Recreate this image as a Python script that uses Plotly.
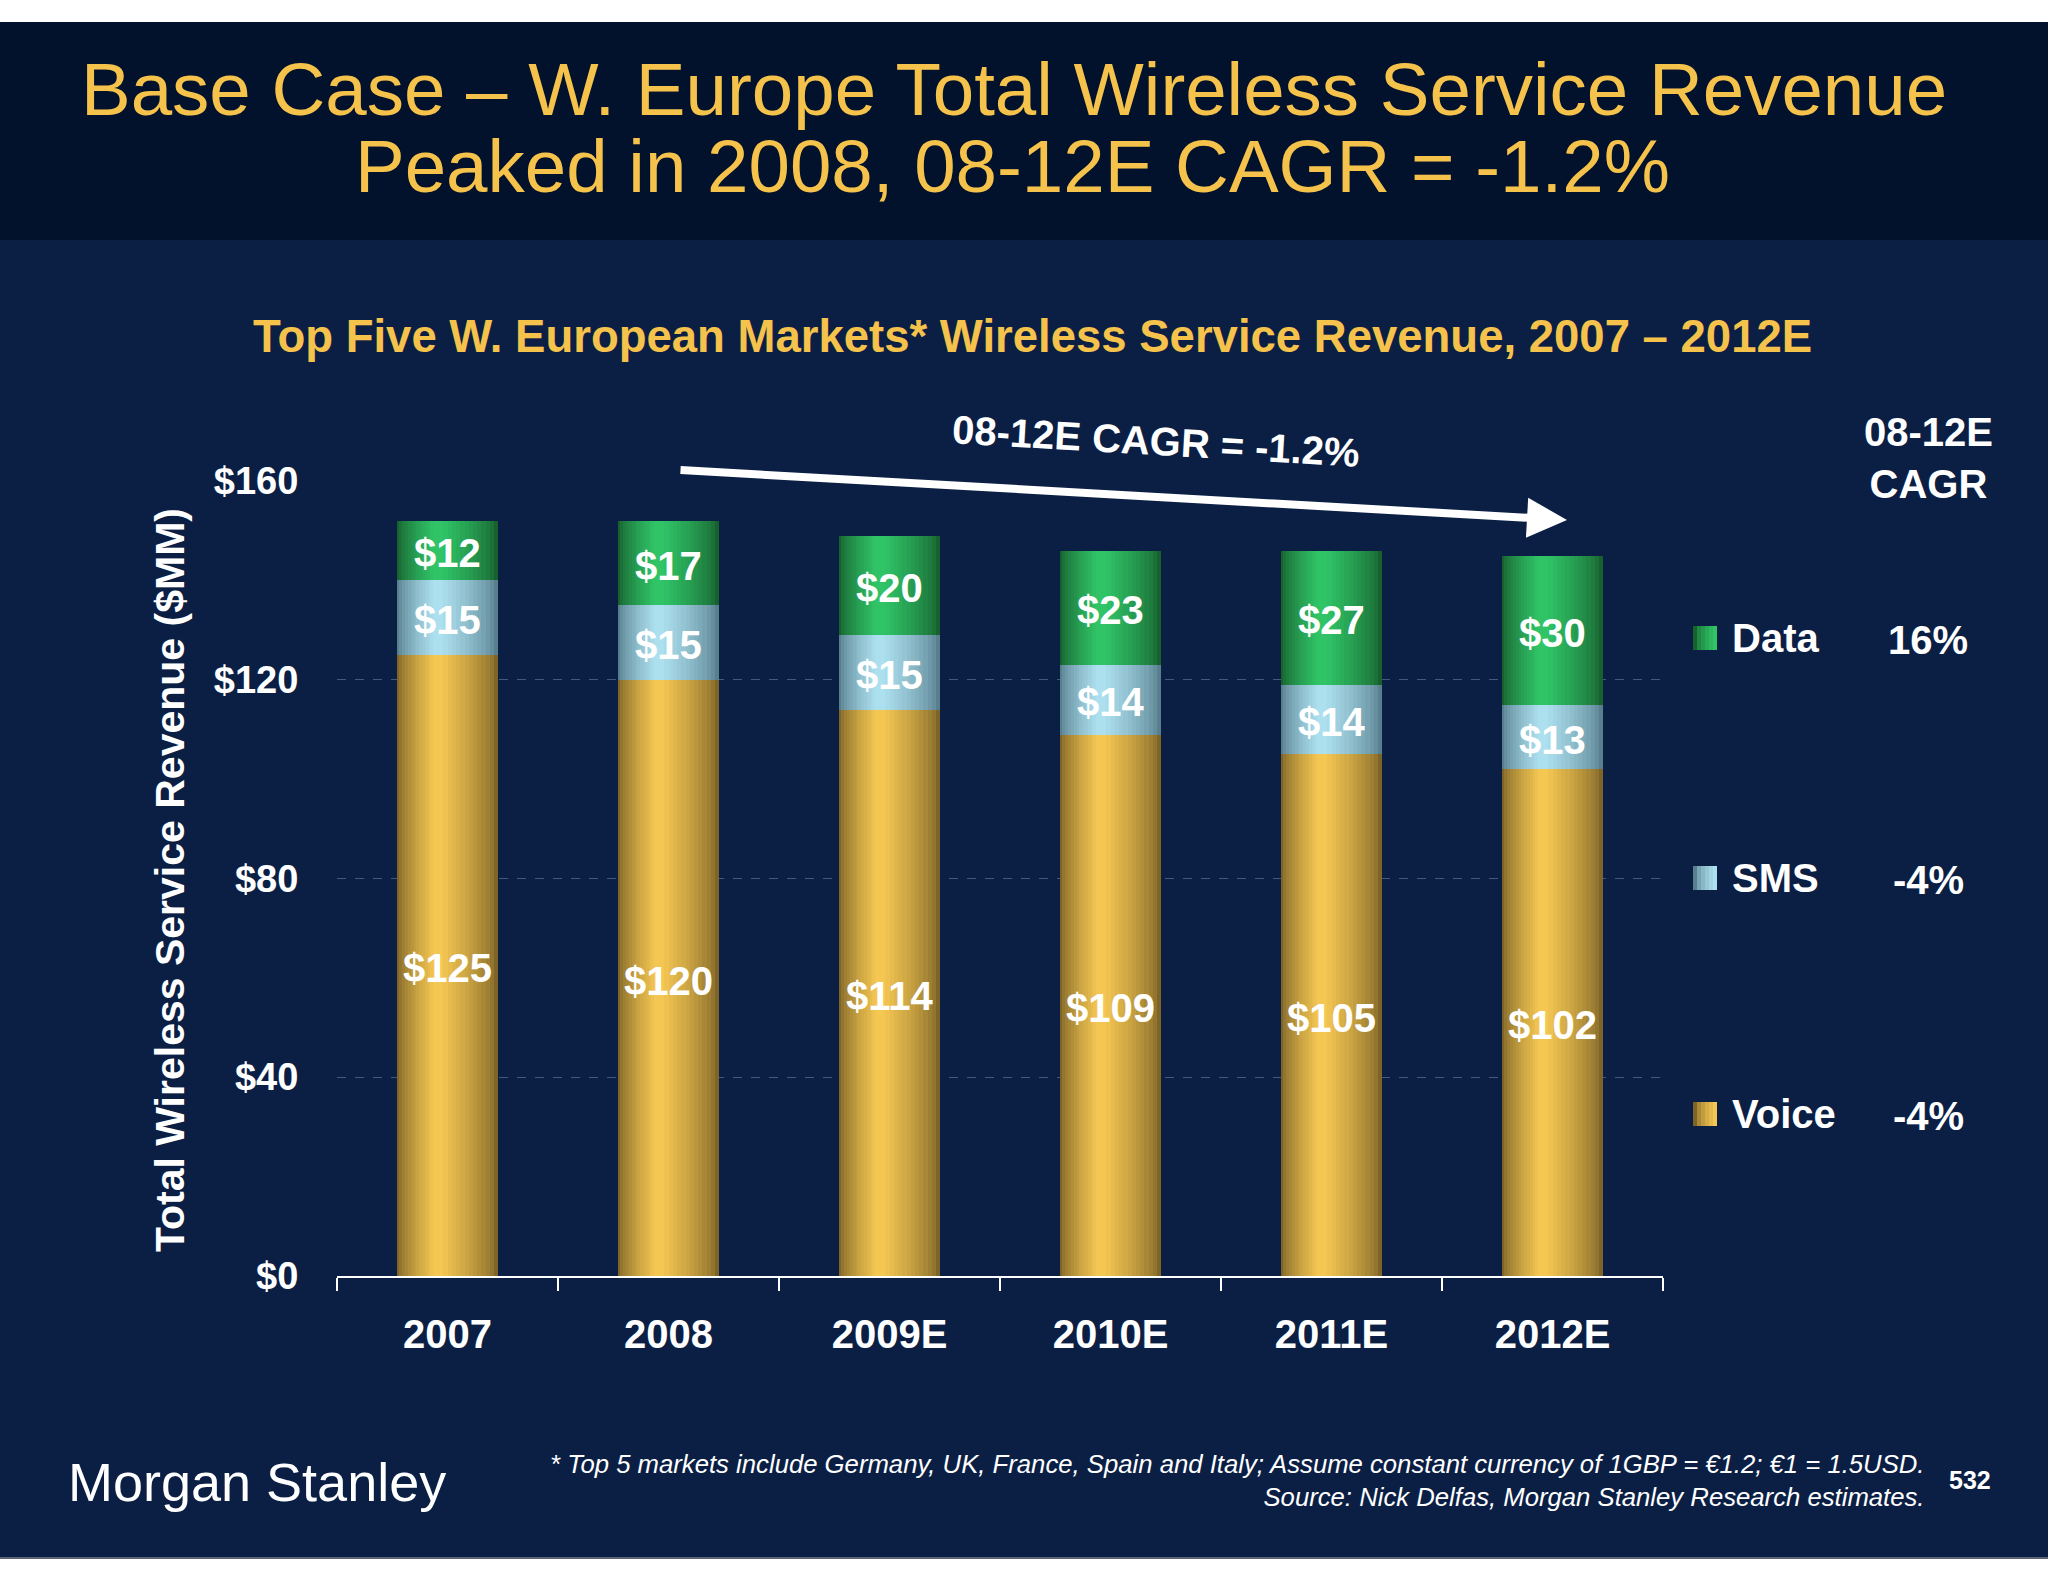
import plotly.graph_objects as go

# ---------------- data ----------------
years = ["2007", "2008", "2009E", "2010E", "2011E", "2012E"]
voice = [125, 120, 114, 109, 105, 102]
sms = [15, 15, 15, 14, 14, 13]
data = [12, 17, 20, 23, 27, 30]
series_names = ["Voice", "SMS", "Data"]
cagr = {"Data": "16%", "SMS": "-4%", "Voice": "-4%"}
y_ticks = [0, 40, 80, 120, 160]
y_tick_text = ["$0", "$40", "$80", "$120", "$160"]

W, H = 2048, 1582
FONT = "Arial, Liberation Sans, sans-serif"
GOLD = "#F5C24C"
BODY = "#0B1F45"
HEAD = "#03122C"


def py(y):
    return 1 - y / H


def px(x):
    return x / W


def lerp(c1, c2, t):
    a = [int(c1[i:i + 2], 16) for i in (1, 3, 5)]
    b = [int(c2[i:i + 2], 16) for i in (1, 3, 5)]
    return "rgb(%d,%d,%d)" % tuple(round(a[i] + (b[i] - a[i]) * t) for i in range(3))


palette = {
    "Voice": ("#7E6527", "#F4C652"),
    "SMS": ("#587F8E", "#ADE0EF"),
    "Data": ("#17612F", "#30C467"),
}

fig = go.Figure()

bar_w = 0.46
layers = 14
bottoms = [0] * len(years)
vals_map = {"Voice": voice, "SMS": sms, "Data": data}
label_y = {}
for name in series_names:
    vals = vals_map[name]
    base = list(bottoms)
    edge, center = palette[name]
    for k in range(layers):
        t = k / (layers - 1)
        shrink = t * 0.9
        left = -bar_w / 2 + shrink * 0.40 * bar_w
        right = bar_w / 2 - shrink * 0.60 * bar_w
        col = lerp(edge, center, t ** 0.7)
        fig.add_trace(go.Bar(
            x=years, y=vals, base=base, width=right - left, offset=left,
            marker=dict(color=col, line=dict(width=0)),
            showlegend=False, hoverinfo="skip", name=name,
        ))
    label_y[name] = [b + v / 2 for b, v in zip(base, vals)]
    bottoms = [b + v for b, v in zip(bottoms, vals)]

annotations = []
# segment value labels, placed on the data axes (x given as category index)
for name in series_names:
    for i, (yv, v) in enumerate(zip(label_y[name], vals_map[name])):
        annotations.append(dict(
            x=i, y=yv, xref="x", yref="y", text="<b>$%d</b>" % v, showarrow=False,
            xanchor="center", yanchor="middle", yshift=-3,
            font=dict(family=FONT, size=40, color="white"),
        ))

shapes = [
    dict(type="rect", xref="paper", yref="paper", x0=0, x1=1, y0=py(22), y1=1,
         fillcolor="white", line=dict(width=0), layer="below"),
    dict(type="rect", xref="paper", yref="paper", x0=0, x1=1, y0=py(240), y1=py(22),
         fillcolor=HEAD, line=dict(width=0), layer="below"),
    dict(type="rect", xref="paper", yref="paper", x0=0, x1=1, y0=0, y1=py(1558),
         fillcolor="white", line=dict(width=0), layer="below"),
    dict(type="line", xref="paper", yref="paper", x0=0, x1=1, y0=py(1558), y1=py(1558),
         line=dict(color="#5A6678", width=2)),
]


def ann(text, x, y, size, color="white", xanchor="center", **kw):
    d = dict(text=text, x=px(x), y=py(y), xref="paper", yref="paper", showarrow=False,
             xanchor=xanchor, yanchor="middle", font=dict(family=FONT, size=size, color=color))
    d.update(kw)
    return d


annotations += [
    ann("Base Case – W. Europe Total Wireless Service Revenue", 1014, 89, 74.5, GOLD),
    ann("Peaked in 2008, 08-12E CAGR = -1.2%", 1012, 167, 74.5, GOLD),
    ann("<b>Top Five W. European Markets* Wireless Service Revenue, 2007 – 2012E</b>", 1032, 336, 45.5, GOLD),
    ann("<b>Total Wireless Service Revenue ($MM)</b>", 170, 880, 41, textangle=-90),
    ann("<b>08-12E CAGR = -1.2%</b>", 1156, 441, 40, textangle=3.3),
    ann("<b>08-12E<br>CAGR</b>", 1928, 458, 40, align="center"),
    ann("Morgan Stanley", 66, 1482, 54, xanchor="left"),
    ann("<i>* Top 5 markets include Germany, UK, France, Spain and Italy; Assume constant currency of 1GBP = €1.2; €1 = 1.5USD.<br>Source: Nick Delfas, Morgan Stanley Research estimates.</i>",
        1926, 1480, 25.7, xanchor="right", align="right"),
    ann("<b>532</b>", 1970, 1480, 25),
    # CAGR arrow
    dict(text="", x=px(1567), y=py(520), xref="paper", yref="paper", showarrow=True,
         ax=679 - 1567, ay=470 - 520, axref="pixel", ayref="pixel",
         arrowhead=2, arrowsize=1.0, arrowwidth=8, arrowcolor="white", standoff=0),
]

legend_y = {"Data": 638, "SMS": 878, "Voice": 1114}
for name in ["Data", "SMS", "Voice"]:
    yc = legend_y[name]
    edge, center = palette[name]
    n = 6
    x0, x1 = 1693, 1717
    for k in range(n):
        t = k / (n - 1)
        shapes.append(dict(type="rect", xref="paper", yref="paper",
                           x0=px(x0 + (x1 - x0) * k / n), x1=px(x0 + (x1 - x0) * (k + 1) / n),
                           y0=py(yc + 12), y1=py(yc - 12),
                           fillcolor=lerp(edge, center, t ** 0.6), line=dict(width=0)))
    annotations.append(ann("<b>%s</b>" % name, 1730, yc, 40, xanchor="left"))
    annotations.append(ann("<b>%s</b>" % cagr[name], 1928, yc + 2, 40))

fig.update_layout(
    width=W, height=H,
    margin=dict(l=0, r=0, t=0, b=0, pad=0, autoexpand=False),
    paper_bgcolor=BODY, plot_bgcolor=BODY,
    barmode="overlay", bargap=0,
    showlegend=False,
    shapes=shapes, annotations=annotations,
    xaxis=dict(domain=[px(337), px(1663)], type="category", automargin=False,
               categoryorder="array", categoryarray=years, range=[-0.5, len(years) - 0.5],
               showline=True, linecolor="white", linewidth=2,
               ticks="outside", tickson="boundaries", ticklen=13, tickcolor="white", tickwidth=2,
               tickfont=dict(family=FONT, size=40, color="white"),
               tickprefix="<b>", ticksuffix="</b>", ticklabelstandoff=22, tickangle=0,
               showgrid=False, zeroline=False, fixedrange=True),
    yaxis=dict(domain=[py(1276), py(480.5)], range=[0, 160], automargin=False,
               tickvals=y_ticks, ticktext=["<b>%s</b>" % t for t in y_tick_text],
               tickfont=dict(family=FONT, size=38, color="white"),
               ticks="outside", ticklen=30, tickcolor="rgba(0,0,0,0)",
               showgrid=True, gridcolor="#45577D", griddash="dash", gridwidth=1.2,
               showline=False, zeroline=False, fixedrange=True),
)

fig.write_html("out.html", config={"displayModeBar": False},
               post_script="document.body.style.margin='0';document.body.style.overflow='hidden';")
